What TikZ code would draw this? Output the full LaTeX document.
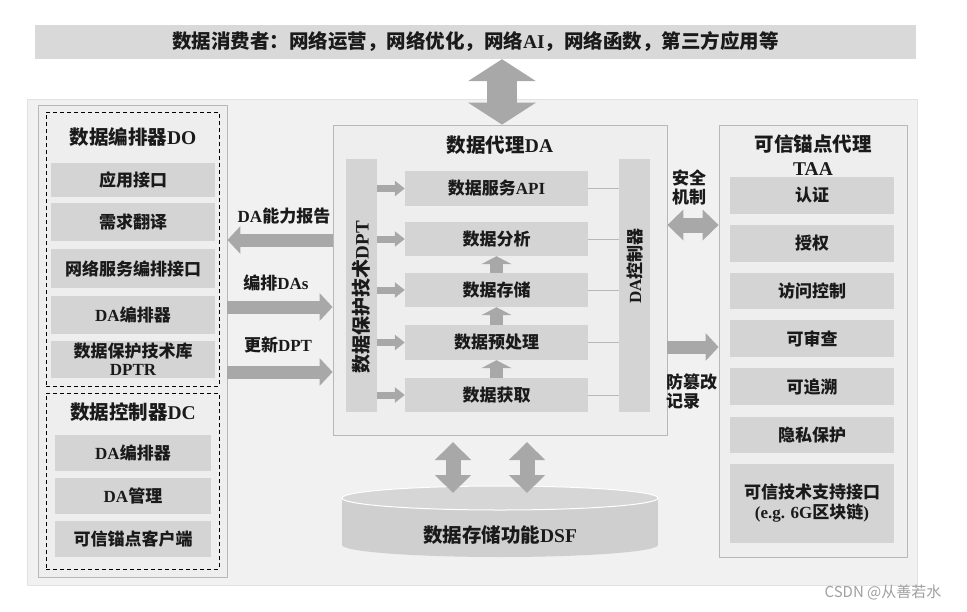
\documentclass[tikz,border=0pt]{standalone}
\usepackage{fontspec}
\setmainfont{Noto Sans CJK SC}
\newfontfamily\latinfont{Liberation Serif}
\newfontfamily\wmfont{Noto Sans CJK SC}
\newcommand\lt[1]{{\latinfont\bfseries #1}}
\usetikzlibrary{arrows.meta}
\definecolor{panelbg}{HTML}{F1F1F1}
\definecolor{panelline}{HTML}{E2E2E2}
\definecolor{outerbg}{HTML}{EEEEEE}
\definecolor{boxline}{HTML}{B8B8B8}
\definecolor{itemgray}{HTML}{D4D4D4}
\definecolor{arrowgray}{HTML}{A8A8A8}
\definecolor{bannergray}{HTML}{D9D9D9}
\definecolor{txt}{HTML}{1A1A1A}
\definecolor{cylgray}{HTML}{CFCFCF}
\definecolor{cyltop}{HTML}{D6D6D6}
\definecolor{wmgray}{HTML}{A0A0A0}
\tikzset{
  itembox/.style={fill=itemgray, inner sep=0pt, align=center, text=txt,
    font=\bfseries\fontsize{17}{19}\selectfont},
  titletext/.style={inner sep=0pt, align=center, text=txt,
    font=\bfseries\fontsize{19.5}{24}\selectfont},
  labeltext/.style={inner sep=0pt, align=center, text=txt,
    font=\bfseries\fontsize{17}{19}\selectfont},
  dashbox/.style={draw=black, line width=0.9pt, dash pattern=on 4pt off 3pt},
  connline/.style={draw=boxline, line width=0.8pt},
  harrow/.style={draw=arrowgray, line width=13pt,
    -{Triangle[width=27pt,length=13pt]}},
  hdarrow/.style={draw=arrowgray, line width=15pt,
    {Triangle[width=30pt,length=16pt]}-{Triangle[width=30pt,length=16pt]}},
  vdarrow/.style={draw=arrowgray, line width=15pt,
    {Triangle[width=35pt,length=18pt]}-{Triangle[width=35pt,length=18pt]}},
  bigarrow/.style={draw=arrowgray, line width=30pt,
    {Triangle[width=67pt,length=22pt]}-{Triangle[width=67pt,length=22pt]}},
  smallarrow/.style={draw=arrowgray, line width=7pt,
    -{Triangle[width=15pt,length=10pt]}},
  uparrow/.style={draw=arrowgray, line width=13pt,
    -{Triangle[width=30pt,length=8pt]}},
}
\begin{document}
\begin{tikzpicture}[x=1pt,y=-1pt]
\useasboundingbox[fill=white] (0,0) rectangle (967,611);

% banner
\node[fill=bannergray, minimum width=881pt, minimum height=34pt, inner sep=0pt,
  text=txt, font=\bfseries\fontsize{19.5}{22}\selectfont] (banner) at (475.5,42)
  {数据消费者：网络运营，网络优化，网络\lt{AI}，网络函数，第三方应用等};

% background panel
\node[fill=panelbg, draw=panelline, minimum width=890pt, minimum height=486pt,
  inner sep=0pt] (panel) at (472,342) {};

% left outer box
\node[fill=outerbg, draw=boxline, line width=0.8pt, minimum width=189pt,
  minimum height=472pt, inner sep=0pt] (lo) at (132.5,341) {};
\node[dashbox, minimum width=173pt, minimum height=274pt, inner sep=0pt] (dobox) at (132.5,249) {};
\node[dashbox, minimum width=173pt, minimum height=176pt, inner sep=0pt] (dcbox) at (132.5,481) {};

\node[titletext] (dotitle) at (133,137) {数据编排器\lt{DO}};
\node[itembox, minimum width=164pt, minimum height=34pt] (do1) at (133,180) {应用接口};
\node[itembox, minimum width=164pt, minimum height=38pt] (do2) at (133,222) {需求翻译};
\node[itembox, minimum width=164pt, minimum height=39pt] (do3) at (133,268.5) {网络服务编排接口};
\node[itembox, minimum width=164pt, minimum height=38pt] (do4) at (133,315) {\lt{DA}编排器};
\node[itembox, minimum width=164pt, minimum height=37pt,
  font=\bfseries\fontsize{17}{18}\selectfont] (do5) at (133,359.5) {数据保护技术库\\\lt{DPTR}};

\node[titletext] (dctitle) at (133,412) {数据控制器\lt{DC}};
\node[itembox, minimum width=156pt, minimum height=36pt] (dc1) at (133,453) {\lt{DA}编排器};
\node[itembox, minimum width=156pt, minimum height=36pt] (dc2) at (133,496) {\lt{DA}管理};
\node[itembox, minimum width=156pt, minimum height=36pt] (dc3) at (133,539) {可信锚点客户端};

% DA box
\node[fill=outerbg, draw=boxline, line width=0.8pt, minimum width=334pt,
  minimum height=310pt, inner sep=0pt] (da) at (500,280) {};
\node[titletext] (datitle) at (500,145) {数据代理\lt{DA}};
\node[fill=itemgray, minimum width=31pt, minimum height=253pt, inner sep=0pt] (dpt) at (361.5,285.5) {};
\node[rotate=90, labeltext, font=\bfseries\fontsize{19}{22}\selectfont] (dptt) at (361.5,297) {数据保护技术\lt{DPT}};
\node[fill=itemgray, minimum width=31pt, minimum height=253pt, inner sep=0pt] (ctl) at (634.5,285.5) {};
\node[rotate=90, labeltext] (ctlt) at (634.5,266) {\lt{DA}控制器};

\node[itembox, minimum width=183pt, minimum height=35pt] (api) at (496.5,188.5) {数据服务\lt{API}};
\node[itembox, minimum width=183pt, minimum height=34pt] (ana) at (496.5,239) {数据分析};
\node[itembox, minimum width=183pt, minimum height=34pt] (sto) at (496.5,290) {数据存储};
\node[itembox, minimum width=183pt, minimum height=35pt] (pre) at (496.5,342.5) {数据预处理};
\node[itembox, minimum width=183pt, minimum height=34pt] (acq) at (496.5,395) {数据获取};

\foreach \n in {api,ana,sto,pre,acq}{
  \draw[connline] (\n.east) -- (\n.east -| ctl.west);
  \draw[smallarrow] (dpt.east |- \n.west) -- (\n.west);
}
\draw[uparrow] (acq.north) -- (pre.south);
\draw[uparrow] (pre.north) -- (sto.south);
\draw[uparrow] (sto.north) -- (ana.south);

% left arrows and labels
\node[labeltext] (l1) at (284,216) {\lt{DA}能力报告};
\node[labeltext] (l2) at (276,283) {编排\lt{DAs}};
\node[labeltext] (l3) at (278,345) {更新\lt{DPT}};
\draw[harrow] (da.west |- 0,240) -- (lo.east |- 0,240);
\draw[harrow] (lo.east |- 0,307) -- (da.west |- 0,307);
\draw[harrow] (lo.east |- 0,372) -- (da.west |- 0,372);

% TAA box
\node[fill=outerbg, draw=boxline, line width=0.8pt, minimum width=188pt,
  minimum height=432pt, inner sep=0pt] (taa) at (813,341) {};
\node[titletext, font=\bfseries\fontsize{19.5}{24}\selectfont] (taatitle) at (813,155) {可信锚点代理\\\lt{TAA}};
\node[itembox, minimum width=164pt, minimum height=37pt] (t1) at (812,195.5) {认证};
\node[itembox, minimum width=164pt, minimum height=37pt] (t2) at (812,243.5) {授权};
\node[itembox, minimum width=164pt, minimum height=36pt] (t3) at (812,291) {访问控制};
\node[itembox, minimum width=164pt, minimum height=37pt] (t4) at (812,338.5) {可审查};
\node[itembox, minimum width=164pt, minimum height=37pt] (t5) at (812,386.5) {可追溯};
\node[itembox, minimum width=164pt, minimum height=36pt] (t6) at (812,435) {隐私保护};
\node[itembox, minimum width=164pt, minimum height=79pt,
  font=\bfseries\fontsize{17}{20}\selectfont] (t7) at (812,503.5) {可信技术支持接口\\\lt{(e.g. 6G}区块链\lt{)}};

% right arrows and labels
\node[labeltext, font=\bfseries\fontsize{17}{19}\selectfont] (r1) at (689,187) {安全\\机制};
\draw[hdarrow] (da.east |- 0,225) -- (taa.west |- 0,225);
\draw[harrow] (da.east |- 0,347) -- (taa.west |- 0,347);
\node[labeltext, anchor=west, align=left] (r2) at (666,391) {防篡改\\记录};

% top arrow
\draw[bigarrow] (502,0 |- banner.south) -- (502,0 |- da.north);

% cylinder DSF
\fill[cylgray] (342,498) rectangle (658,545);
\fill[cylgray] (500,545) ellipse [x radius=158, y radius=12];
\draw[fill=cyltop, draw=white, line width=1pt] (500,498) ellipse [x radius=158, y radius=12];
\node[titletext] (dsf) at (500,535) {数据存储功能\lt{DSF}};

\coordinate (v1a) at (453,442); \coordinate (v1b) at (453,493);
\coordinate (v2a) at (527,442); \coordinate (v2b) at (527,493);
\draw[vdarrow] (v1a) -- (v1b);
\draw[vdarrow] (v2a) -- (v2b);

% watermark
\node[inner sep=0pt, text=wmgray, font=\wmfont\fontsize{15}{17}\selectfont] (wm) at (883,592) {CSDN @从善若水};
\end{tikzpicture}
\end{document}
